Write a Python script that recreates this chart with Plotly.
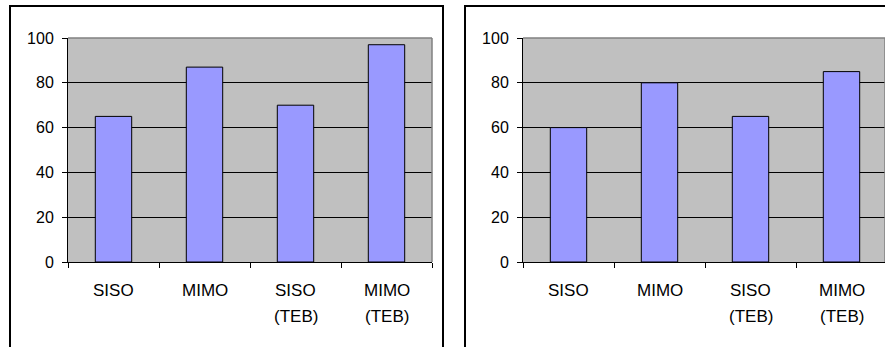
import plotly.graph_objects as go

# Categories and values for the two panels
categories = ["SISO", "MIMO", "SISO (TEB)", "MIMO (TEB)"]
label_line1 = ["SISO", "MIMO", "SISO", "MIMO"]
label_line2 = ["", "", "(TEB)", "(TEB)"]
values_left = [65, 87, 70, 97]
values_right = [60, 80, 65, 85]
y_ticks = [0, 20, 40, 60, 80, 100]

W, H = 885, 347
FONT = "Liberation Sans, Arial, sans-serif"
BAR_FILL = "#9999FF"
PLOT_BG = "#C0C0C0"


def px_x(p):
    return p / W


def px_y(p):
    return 1 - p / H


fig = go.Figure()

fig.add_trace(go.Bar(x=categories, y=values_left, xaxis="x", yaxis="y",
                     width=0.4, marker=dict(color=BAR_FILL, line=dict(color="black", width=1)),
                     showlegend=False, hoverinfo="skip"))
fig.add_trace(go.Bar(x=categories, y=values_right, xaxis="x2", yaxis="y2",
                     width=0.4, marker=dict(color=BAR_FILL, line=dict(color="black", width=1)),
                     showlegend=False, hoverinfo="skip"))

y_dom = [px_y(262), px_y(38)]
left_dom = [px_x(68), px_x(432)]
right_dom = [px_x(523), 1.0]
cat_w = (432 - 68) / 4.0
right_end = -0.5 + (885 - 523) / cat_w

xcommon = dict(type="category", categoryorder="array", categoryarray=categories,
               showline=True, linecolor="black", linewidth=1,
               ticks="outside", ticklen=5, tickcolor="black", tickwidth=1,
               tickson="boundaries", showticklabels=False, showgrid=False,
               zeroline=False, fixedrange=True, automargin=False)
ycommon = dict(range=[0, 100], tickvals=y_ticks, showline=True, linecolor="black",
               linewidth=1, ticks="outside", ticklen=5, tickcolor="black",
               showgrid=True, gridcolor="black", gridwidth=1, zeroline=False,
               tickfont=dict(family=FONT, size=16, color="black"),
               ticklabelstandoff=5, fixedrange=True, automargin=False)

fig.update_layout(
    template="none",
    width=W, height=H,
    margin=dict(l=0, r=0, t=0, b=0, pad=0),
    paper_bgcolor="white",
    plot_bgcolor=PLOT_BG,
    bargap=0.6,
    xaxis=dict(domain=left_dom, anchor="y", range=[-0.5, 3.5], **xcommon),
    yaxis=dict(domain=y_dom, anchor="x", **ycommon),
    xaxis2=dict(domain=right_dom, anchor="y2", range=[-0.5, right_end], **xcommon),
    yaxis2=dict(domain=y_dom, anchor="x2", **ycommon),
)

# Category labels (two-line labels with Excel-like spacing)
for xa, ya in (("x", "y"), ("x2", "y2")):
    for cat, l1, l2 in zip(categories, label_line1, label_line2):
        fig.add_annotation(x=cat, y=-0.125, xref=xa, yref=f"{ya} domain",
                           text=l1, showarrow=False, xanchor="center", yanchor="middle",
                           font=dict(family=FONT, size=17, color="black"))
        if l2:
            fig.add_annotation(x=cat, y=-0.2455, xref=xa, yref=f"{ya} domain",
                               text=l2, showarrow=False, xanchor="center", yanchor="middle",
                               font=dict(family=FONT, size=17, color="black"))

# Grey plot-area edges on top and right
for xa, ya in (("x", "y"), ("x2", "y2")):
    fig.add_shape(type="line", xref=f"{xa} domain", yref=f"{ya} domain",
                  x0=0, x1=1, y0=1, y1=1, line=dict(color="#808080", width=1.5), layer="above")
    fig.add_shape(type="line", xref=f"{xa} domain", yref=f"{ya} domain",
                  x0=1, x1=1, y0=0, y1=1, line=dict(color="#808080", width=1.5), layer="above")

# Chart frames
fig.add_shape(type="rect", xref="paper", yref="paper",
              x0=px_x(10), x1=px_x(443), y0=-0.2, y1=px_y(6),
              line=dict(color="black", width=2), fillcolor="rgba(0,0,0,0)", layer="above")
fig.add_shape(type="rect", xref="paper", yref="paper",
              x0=px_x(465), x1=1.2, y0=-0.2, y1=px_y(6),
              line=dict(color="black", width=2), fillcolor="rgba(0,0,0,0)", layer="above")

fig.write_html("out.html")
